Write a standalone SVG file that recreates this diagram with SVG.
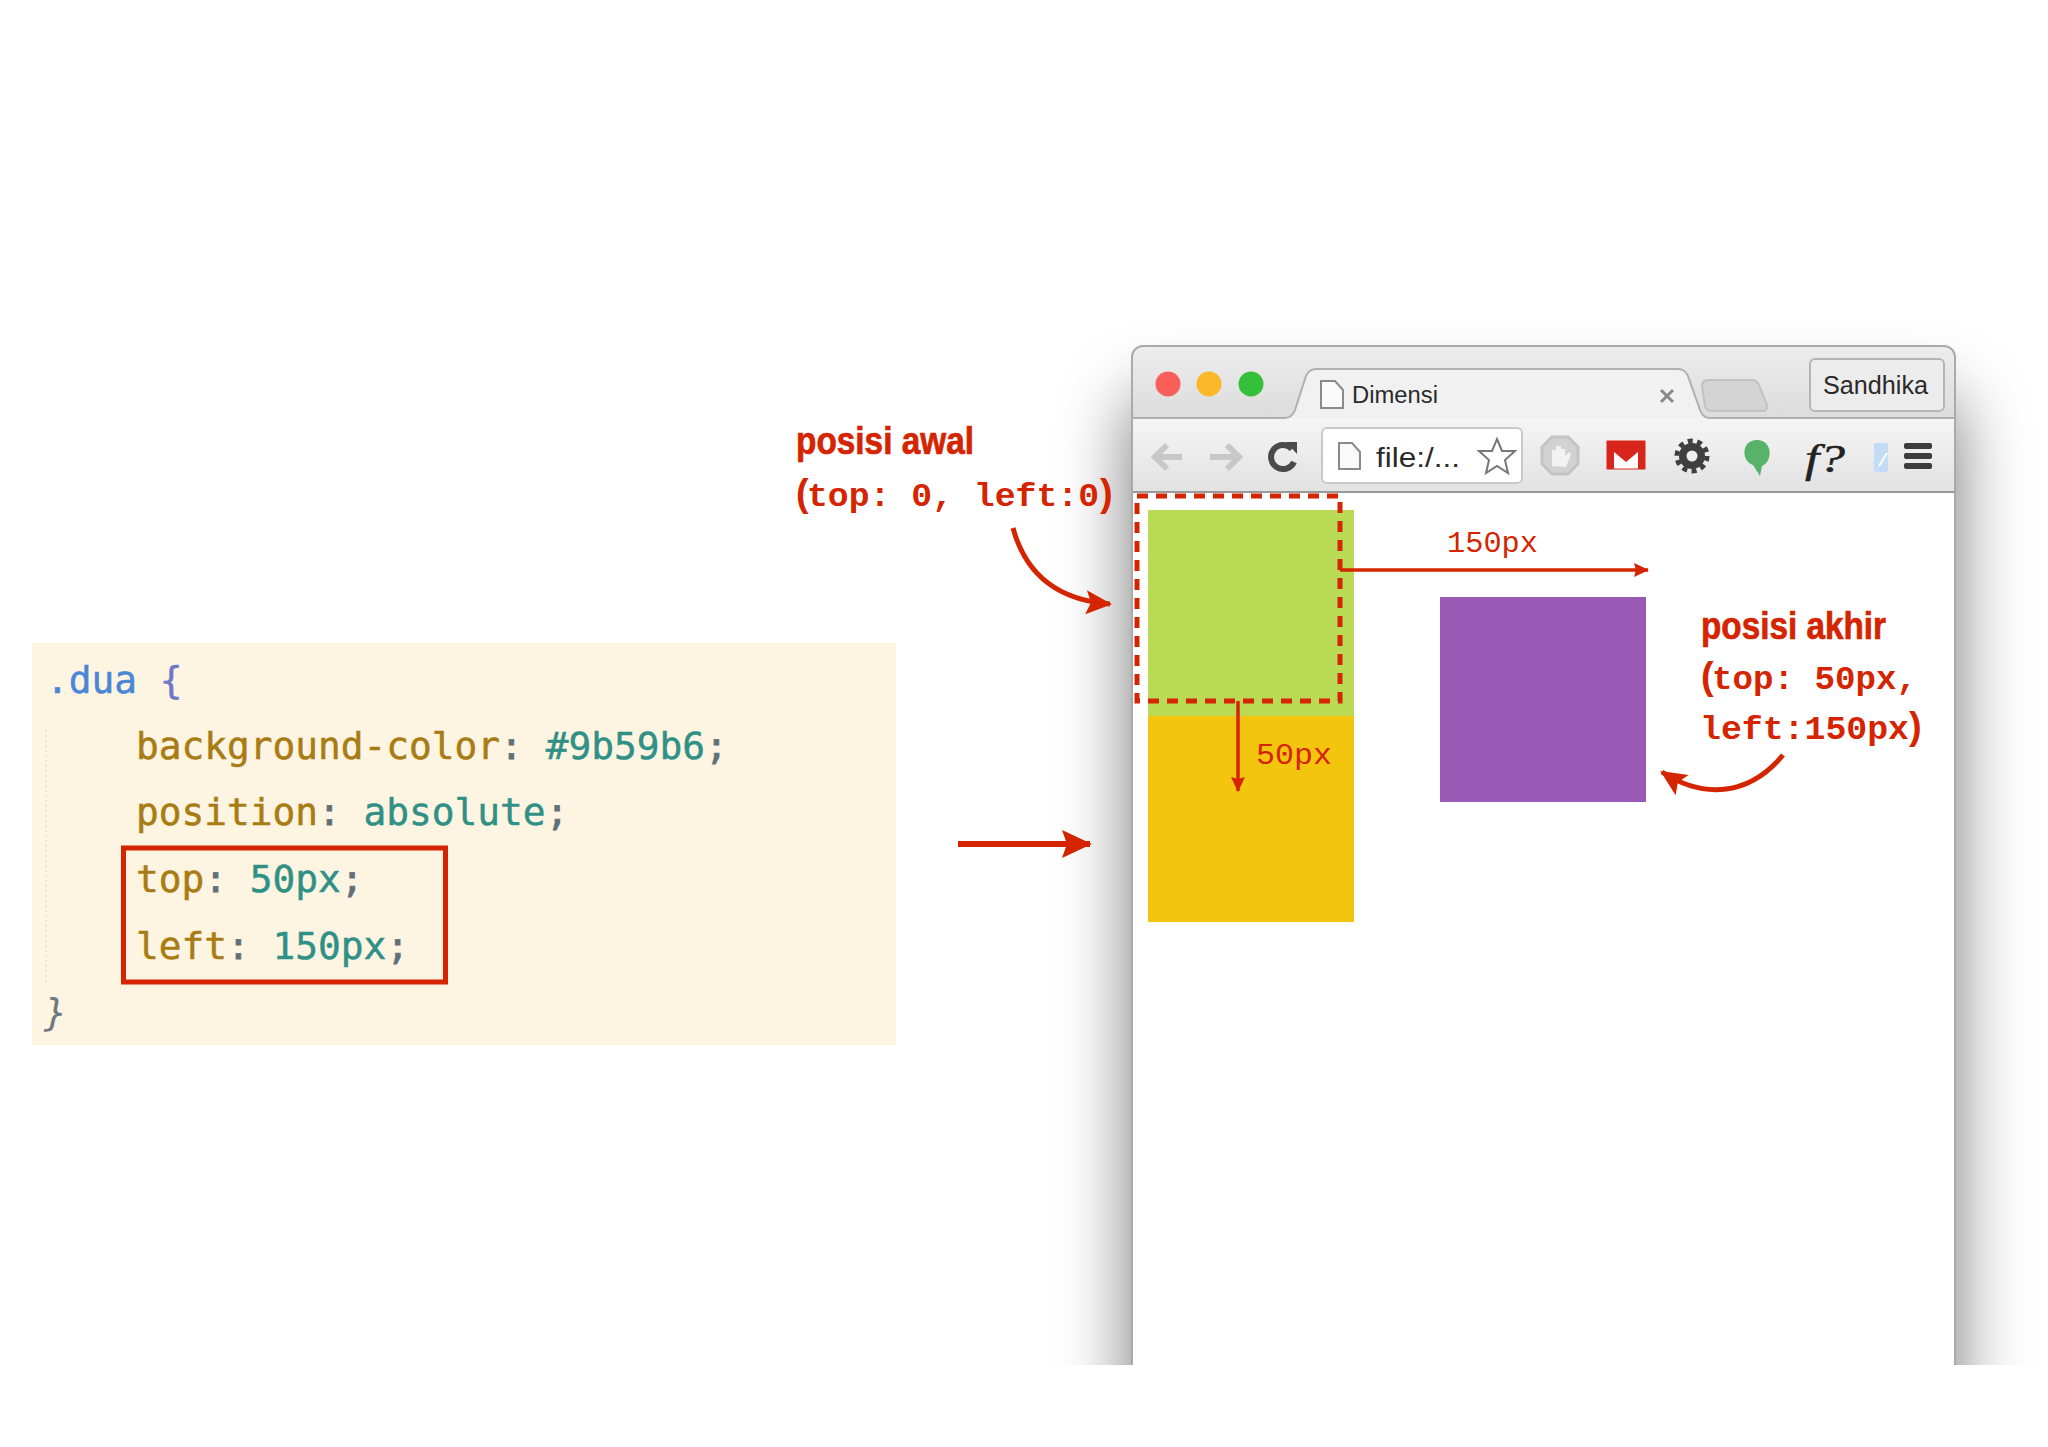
<svg xmlns="http://www.w3.org/2000/svg" width="2048" height="1447" viewBox="0 0 2048 1447">
<style>
.code{font-family:"DejaVu Sans Mono",monospace;font-size:37.8px}
.p{fill:#a87c12;stroke:#a87c12;stroke-width:.5}.v{fill:#2f9186;stroke:#2f9186;stroke-width:.5}.c{fill:#5f7079;stroke:#5f7079;stroke-width:.8}
.h{font-family:"Liberation Sans",Arial,sans-serif;font-weight:700;font-size:39px;fill:#d42400;stroke:#d42400;stroke-width:.7}
.m{font-family:"Liberation Mono",monospace;font-weight:700;font-size:34px;fill:#d42400}
.pa{font-family:"Liberation Sans",Arial,sans-serif;font-weight:700;font-size:38px;fill:#d42400}
.d{font-family:"Liberation Mono",monospace;font-size:30px;fill:#d42400}
.ui{font-family:"Liberation Sans",Arial,sans-serif;fill:#2a2a2a}
.conn{fill:none;stroke:#d42400}
.doc{fill:#fafafa;stroke:#8a8a8a;stroke-width:2}
</style>
<defs>
<linearGradient id="tb" x1="0" y1="0" x2="0" y2="1"><stop offset="0" stop-color="#ededed"/><stop offset="1" stop-color="#dcdcdc"/></linearGradient>
<linearGradient id="tl" x1="0" y1="0" x2="0" y2="1"><stop offset="0" stop-color="#f5f5f5"/><stop offset="1" stop-color="#e2e2e2"/></linearGradient>
<filter id="sh" x="-20%" y="-20%" width="140%" height="140%"><feGaussianBlur stdDeviation="36"/></filter>
<clipPath id="cut"><rect x="0" y="250" width="2048" height="1115"/></clipPath>
<marker id="big" markerUnits="userSpaceOnUse" markerWidth="34" markerHeight="32" refX="28" refY="14" orient="auto" overflow="visible"><path d="M0 0L30 14L0 28L5 14Z" fill="#d42400"/></marker>
<marker id="cur" markerUnits="userSpaceOnUse" markerWidth="34" markerHeight="32" refX="24" refY="12" orient="auto" overflow="visible"><path d="M0 0L26 12L0 24L5 12Z" fill="#d42400"/></marker>
<marker id="sm" markerUnits="userSpaceOnUse" markerWidth="20" markerHeight="20" refX="14" refY="7" orient="auto" overflow="visible"><path d="M0 0L15 7L0 14L2 7Z" fill="#d42400"/></marker>
</defs>
<rect width="2048" height="1447" fill="#fff"/>

<g id="code-panel">
<rect x="32" y="643" width="864" height="402" fill="#fef4e2"/>
<path d="M46 730V985" stroke="#e6dfcf" stroke-width="1.5" stroke-dasharray="2 3" fill="none"/>
<text class="code" x="46" y="693"><tspan fill="#4a86d6" stroke="#4a86d6" stroke-width=".5">.dua</tspan> <tspan fill="#6f78c8" stroke="#6f78c8" stroke-width=".5">{</tspan></text>
<text class="code" x="136" y="759"><tspan class="p">background-color</tspan><tspan class="c">:</tspan> <tspan class="v">#9b59b6</tspan><tspan class="c">;</tspan></text>
<text class="code" x="136" y="825"><tspan class="p">position</tspan><tspan class="c">:</tspan> <tspan class="v">absolute</tspan><tspan class="c">;</tspan></text>
<text class="code" x="136" y="892"><tspan class="p">top</tspan><tspan class="c">:</tspan> <tspan class="v">50px</tspan><tspan class="c">;</tspan></text>
<text class="code" x="136" y="959"><tspan class="p">left</tspan><tspan class="c">:</tspan> <tspan class="v">150px</tspan><tspan class="c">;</tspan></text>
<text class="code" x="44" y="1025" fill="#6d7a80" font-style="italic">}</text>
<rect x="123.500" y="848" width="322" height="134" fill="none" stroke="#d42400" stroke-width="5"/>
</g>

<g id="browser">
<g clip-path="url(#cut)"><rect x="1132" y="400" width="823" height="1050" fill="#000" opacity=".55" filter="url(#sh)"/></g>
<path d="M1132 1365V357a11 11 0 0 1 11-11H1944a11 11 0 0 1 11 11V1365Z" fill="#fff"/>
<path d="M1132 418V357a11 11 0 0 1 11-11H1944a11 11 0 0 1 11 11V418Z" fill="url(#tb)"/>
<rect x="1132" y="418" width="823" height="74" fill="url(#tl)"/>
<path d="M1132 1365V357a11 11 0 0 1 11-11H1944a11 11 0 0 1 11 11V1365" fill="none" stroke="#aaa" stroke-width="2"/>
<path d="M1132 418H1285Q1292 418 1295 410L1306 376Q1309 369 1316 369H1678Q1685 369 1688 376L1700 410Q1703 418 1710 418H1955" fill="#f1f1f1" stroke="#b0b0b0" stroke-width="2"/>
<rect x="1133" y="491" width="821" height="2" fill="#999"/>
<g id="traffic-lights">
<circle cx="1168" cy="384" r="12.500" fill="#f85f5a"/>
<circle cx="1209" cy="384" r="12.500" fill="#fbb829"/>
<circle cx="1251" cy="384" r="12.500" fill="#35c03c"/>
</g>
<g id="tab">
<path class="doc" d="M1321 381H1335L1343 390V408H1321Z"/>
<text class="ui" x="1352" y="403" font-size="23" textLength="86" lengthAdjust="spacingAndGlyphs">Dimensi</text>
<path d="M1661 390L1673 402M1673 390L1661 402" stroke="#8a8a8a" stroke-width="3"/>
</g>
<path id="new-tab" d="M1708 380H1752Q1757 380 1759 385L1767 405Q1768 411 1762 411H1712Q1706 411 1705 406L1702 386Q1702 380 1708 380Z" fill="#d4d4d4" stroke="#c2c2c2" stroke-width="2"/>
<g id="profile-button">
<rect x="1810" y="359" width="134" height="52" rx="5" fill="#ececec" stroke="#b5b5b5" stroke-width="2"/>
<text class="ui" x="1823" y="394" font-size="25" textLength="105" lengthAdjust="spacingAndGlyphs">Sandhika</text>
</g>
<g id="nav-buttons" fill="none" stroke-width="6">
<path d="M1182 457H1156M1167 445L1155 457L1167 469" stroke="#c8c8c8"/>
<path d="M1210 457H1238M1227 445L1239 457L1227 469" stroke="#c8c8c8"/>
<path d="M1292 449A12 12 0 1 0 1294 462" stroke="#4a4a4a" stroke-width="6"/>
<path d="M1286 442H1297V454Z" fill="#4a4a4a" stroke="none"/>
</g>
<g id="address-bar">
<rect x="1322" y="428" width="200" height="55" rx="5" fill="#fff" stroke="#c9c9c9" stroke-width="2"/>
<path class="doc" d="M1339 443H1352L1360 452V469H1339Z"/>
<text class="ui" x="1376" y="467" font-size="27" textLength="84" lengthAdjust="spacingAndGlyphs">file:/...</text>
<path d="M1497 439L1502 451L1515 451L1505 460L1508 473L1497 466L1486 473L1489 460L1479 451L1492 451Z" fill="#fff" stroke="#777" stroke-width="2"/>
</g>
<g id="extensions">
<path d="M1552 437H1568L1578 447V464L1568 474H1552L1542 464V447Z" fill="#d2d2d2" stroke="#c4c4c4" stroke-width="3"/>
<path d="M1552 466V450H1556V446H1561V449H1565V456L1569 452L1571 454L1566 467Z" fill="#f2f2f2"/>
<rect x="1607" y="441" width="38" height="28" fill="#fff" stroke="#d9261c" stroke-width="1"/>
<path d="M1607 441H1645V469H1638V452L1626 462L1614 452V469H1607Z" fill="#d9261c"/>
<circle cx="1692" cy="456" r="13" fill="#3f3f3f"/>
<circle cx="1692" cy="456" r="15" fill="none" stroke="#3f3f3f" stroke-width="5" stroke-dasharray="5 4.420"/>
<circle cx="1692" cy="456" r="5.500" fill="#eee"/>
<path d="M1757 440C1773 440 1773 462 1762 466L1760 476L1753 465C1741 461 1741 440 1757 440Z" fill="#57b26a"/>
<text x="1805" y="472" font-family="'Liberation Serif',serif" font-style="italic" font-size="40" fill="#222" stroke="#222" stroke-width=".5" textLength="40" lengthAdjust="spacingAndGlyphs">f?</text>
<rect x="1874" y="443" width="14" height="29" rx="2" fill="#c3dcf5"/>
<path d="M1879 466L1887 453" stroke="#fff" stroke-width="2"/>
<rect x="1904" y="443" width="28" height="6" rx="2" fill="#3c3c3c"/>
<rect x="1904" y="453" width="28" height="6" rx="2" fill="#3c3c3c"/>
<rect x="1904" y="463" width="28" height="6" rx="2" fill="#3c3c3c"/>
</g>
</g>

<rect id="box-green" x="1148" y="510" width="206" height="206" fill="#bada55"/>
<rect id="box-yellow" x="1148" y="716" width="206" height="206" fill="#f4c50f"/>
<rect id="box-purple" x="1440" y="597" width="206" height="205" fill="#9b59b6"/>
<rect id="box-start" x="1137" y="496" width="203" height="205" fill="none" stroke="#d42400" stroke-width="5" stroke-dasharray="11 8"/>

<g id="label-awal">
<text class="h" x="796" y="454" textLength="178" lengthAdjust="spacingAndGlyphs">posisi awal</text>
<text x="796" y="506"><tspan class="pa">(</tspan><tspan class="m" x="807" textLength="292" lengthAdjust="spacingAndGlyphs">top: 0, left:0</tspan><tspan class="pa" x="1100">)</tspan></text>
</g>
<g id="label-akhir">
<text class="h" x="1701" y="639" textLength="185" lengthAdjust="spacingAndGlyphs">posisi akhir</text>
<text x="1701" y="689"><tspan class="pa">(</tspan><tspan class="m" x="1712" textLength="205" lengthAdjust="spacingAndGlyphs">top: 50px,</tspan></text>
<text x="1700" y="739"><tspan class="m" textLength="209" lengthAdjust="spacingAndGlyphs">left:150px</tspan><tspan class="pa" x="1909">)</tspan></text>
</g>
<text id="label-150" class="d" x="1447" y="552" textLength="91" lengthAdjust="spacingAndGlyphs">150px</text>
<text id="label-50" class="d" x="1256" y="764" textLength="76" lengthAdjust="spacingAndGlyphs">50px</text>

<g id="connectors">
<path class="conn" stroke-width="3.500" d="M1340 570H1648" marker-end="url(#sm)"/>
<path class="conn" stroke-width="3.500" d="M1238 701V791" marker-end="url(#sm)"/>
<path class="conn" stroke-width="6" d="M958 844H1090" marker-end="url(#big)"/>
<path class="conn" stroke-width="5" d="M1013 528C1025 572 1055 600 1110 604" marker-end="url(#cur)"/>
<path class="conn" stroke-width="5" d="M1783 755C1750 795 1705 800 1662 772" marker-end="url(#cur)"/>
</g>
</svg>
